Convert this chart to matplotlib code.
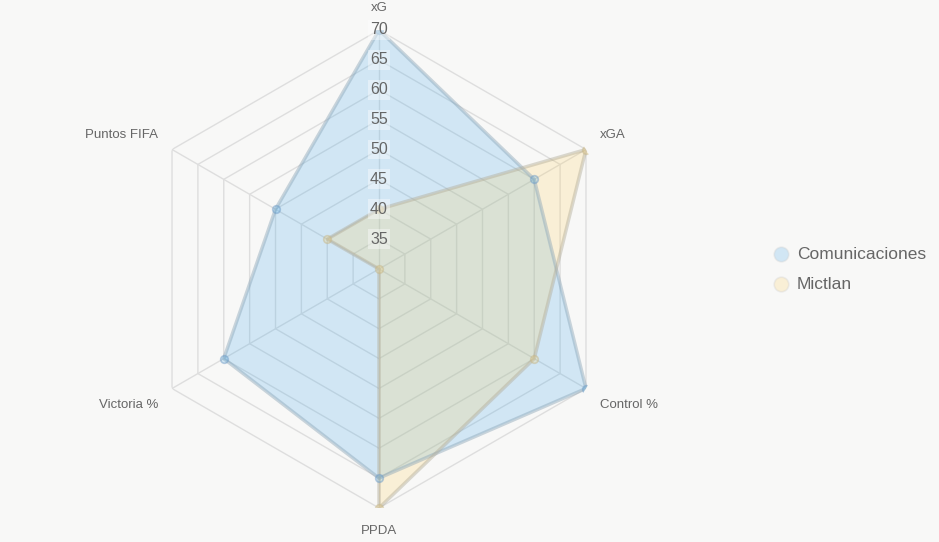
import numpy as np
import matplotlib.pyplot as plt

plt.rcParams["font.family"] = ["Liberation Sans", "DejaVu Sans"]

# data
axes_labels = ["xG", "xGA", "Control %", "PPDA", "Victoria %", "Puntos FIFA"]
comunicaciones = [70, 60, 70, 65, 60, 50]
mictlan = [40, 70, 60, 70, 30, 40]
series_names = ["Comunicaciones", "Mictlan"]
r_ticks = [35, 40, 45, 50, 55, 60, 65, 70]
r_min, r_max = 30, 70

bg = "#f8f8f7"
fill_colors = [(54/255, 162/255, 235/255, 0.2), (255/255, 206/255, 86/255, 0.2)]
edge_colors = [(0.55, 0.65, 0.72, 0.45), (0.70, 0.68, 0.60, 0.45)]
point_colors = [(0.45, 0.62, 0.78, 0.5), (0.78, 0.72, 0.55, 0.5)]

fig = plt.figure(figsize=(9.39, 5.42), dpi=100)
fig.patch.set_facecolor(bg)
ax = fig.add_axes([140/939, 34/542, 478/939, 478/542], projection="polar")
ax.set_facecolor(bg)
ax.set_theta_offset(np.pi / 2)
ax.set_theta_direction(-1)
ax.set_ylim(r_min, r_max)
ax.grid(False)
ax.spines["polar"].set_visible(False)
ax.set_xticks([])
ax.set_yticks([])

n = len(axes_labels)
theta = np.arange(n) * 2 * np.pi / n
theta_closed = np.append(theta, theta[0])

# hexagonal grid
for r in r_ticks:
    ax.plot(theta_closed, [r] * (n + 1), color="#dedede", lw=1, zorder=1)
for t in theta:
    ax.plot([t, t], [r_min, r_max], color="#dedede", lw=1, zorder=1)

# series
for vals, fc, ec, pc, name in zip([comunicaciones, mictlan], fill_colors, edge_colors, point_colors, series_names):
    v = np.append(vals, vals[0])
    ax.fill(theta_closed, v, color=fc, zorder=2, lw=0)
    ax.plot(theta_closed, v, color=ec, lw=2.5, zorder=3)
    ax.scatter(theta, vals, s=30, color=fc, edgecolors=pc, linewidths=1.2, zorder=4, label=name)

# radial tick labels
for r in r_ticks:
    ax.text(0, r, str(r), ha="center", va="center", fontsize=11.5, color="#666666",
            bbox=dict(boxstyle="square,pad=0.15", fc=(1, 1, 1, 0.4), ec="none"), zorder=5)

# point labels
offsets = [(0, 22), (14, 14), (14, -16), (0, -23), (-14, -16), (-14, 14)]
aligns = ["center", "left", "left", "center", "right", "right"]
for t, lab, off, ha in zip(theta, axes_labels, offsets, aligns):
    ax.annotate(lab, xy=(t, r_max), xytext=off, textcoords="offset pixels",
                ha=ha, va="center", fontsize=9.5, color="#666666", annotation_clip=False)

leg = fig.legend(loc="center left", bbox_to_anchor=(757/939, (542 - 269)/542),
                 frameon=False, fontsize=12.5, labelcolor="#666666",
                 handlelength=1.0, handletextpad=0.4, labelspacing=0.85)
for h, fc in zip(leg.legend_handles, fill_colors):
    h.set_sizes([110])
    h.set_facecolor(fc)
    h.set_edgecolor((0.8, 0.8, 0.8, 0.3))

fig.savefig("out.png", dpi=100, facecolor=bg)
